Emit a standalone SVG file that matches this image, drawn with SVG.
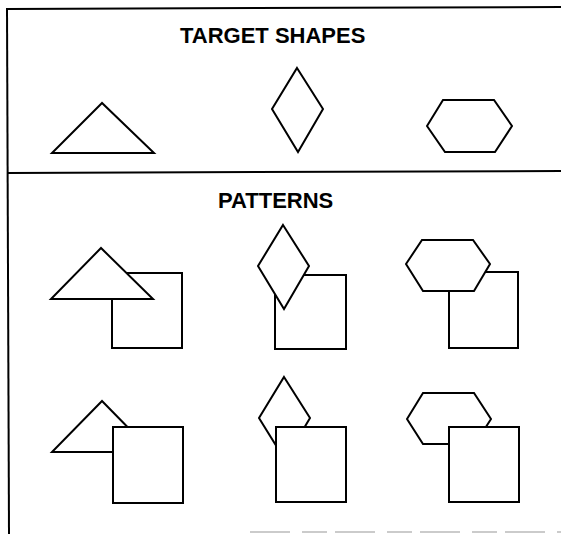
<svg xmlns="http://www.w3.org/2000/svg" width="561" height="534" viewBox="0 0 561 534">
<style>
.s{fill:#fff;stroke:#000;stroke-width:2;stroke-linejoin:miter}
.b{fill:none;stroke:#000;stroke-width:2}
.t{font-family:"Liberation Sans",Arial,sans-serif;font-weight:bold;font-size:22px;fill:#000}
</style>
<rect width="561" height="534" fill="#fff"/>
<g id="frame">
<line class="b" x1="7" y1="9" x2="561" y2="7"/>
<line class="b" x1="7" y1="8" x2="9" y2="534"/>
<line class="b" x1="8" y1="173" x2="561" y2="171"/>
<line x1="250" y1="532" x2="561" y2="532" stroke="#bbb" stroke-width="1.5" stroke-dasharray="40 12 25 8"/>
</g>
<g id="title-target"><text class="t" x="180" y="43">TARGET SHAPES</text></g>
<g id="target-triangle"><polygon class="s" points="102,103 52,153 154,153"/></g>
<g id="target-diamond"><polygon class="s" points="297,68 323,109 298,152 272,109"/></g>
<g id="target-hexagon"><polygon class="s" points="427,126 443,100 494,100 512,126 495,152 445,152"/></g>
<g id="title-patterns"><text class="t" x="218" y="208">PATTERNS</text></g>
<g id="p1-triangle">
<rect class="s" x="112" y="273" width="70" height="75"/>
<polygon class="s" points="101,248 51,299 153,299"/>
</g>
<g id="p1-diamond">
<rect class="s" x="275" y="275" width="71" height="74"/>
<polygon class="s" points="283,225 309,266 284,309 258,266"/>
</g>
<g id="p1-hexagon">
<rect class="s" x="449" y="272" width="69" height="76"/>
<polygon class="s" points="406,264 422,240 473,240 490,264 474,291 423,291"/>
</g>
<g id="p2-triangle">
<polygon class="s" points="102,401 52,452 152,452"/>
<rect class="s" x="113" y="427" width="70" height="76"/>
</g>
<g id="p2-diamond">
<polygon class="s" points="284,377 310,418 285,460 259,418"/>
<rect class="s" x="276" y="427" width="70" height="75"/>
</g>
<g id="p2-hexagon">
<polygon class="s" points="407,419 423,393 474,393 491,419 475,444 423,444"/>
<rect class="s" x="449" y="427" width="70" height="75"/>
</g>
</svg>
